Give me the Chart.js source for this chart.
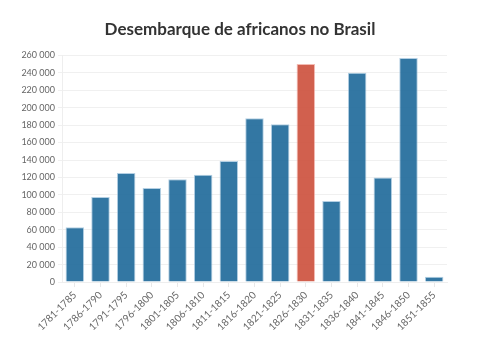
<!DOCTYPE html>
<html>
<head>
<meta charset="utf-8">
<script src="https://cdn.jsdelivr.net/npm/chart.js@4"></script>
<style>
  body { margin: 0; background: #fff; }
  #wrap { width: 480px; height: 340px; }
</style>
</head>
<body>
<div id="wrap"><canvas id="chart"></canvas></div>
<script>
  // data
  const periods = ['1781-1785', '1786-1790', '1791-1795', '1796-1800', '1801-1805', '1806-1810', '1811-1815',
    '1816-1820', '1821-1825', '1826-1830', '1831-1835', '1836-1840', '1841-1845', '1846-1850', '1851-1855'];
  const arrivals = [63000, 97500, 125000, 108000, 118000, 123000, 139000,
    188000, 181000, 250000, 93000, 240000, 120000, 257000, 6000];
  const highlighted = '1826-1830';

  const blue = 'rgba(34,107,155,0.92)';
  const red = 'rgba(205,83,63,0.92)';

  const fmt = v => String(v).replace(/\B(?=(\d{3})+(?!\d))/g, ' ');

  new Chart(document.getElementById('chart'), {
    type: 'bar',
    data: {
      labels: periods,
      datasets: [{
        label: 'Desembarque',
        data: arrivals,
        backgroundColor: periods.map(p => p === highlighted ? red : blue),
        borderColor: periods.map(p => p === highlighted ? 'rgba(240,170,160,0.8)' : 'rgba(160,195,220,0.8)'),
        borderWidth: 1
      }]
    },
    options: {
      responsive: true,
      maintainAspectRatio: false,
      animation: false,
      layout: { padding: { left: 3, right: 3, top: 6, bottom: 5 } },
      plugins: {
        legend: { display: false },
        tooltip: { enabled: false },
        title: {
          display: true,
          text: 'Desembarque de africanos no Brasil',
          color: '#333',
          font: { family: 'Lato', size: 17, weight: 'bold' },
          padding: { top: 13, bottom: 16 }
        }
      },
      scales: {
        x: {
          grid: { drawOnChartArea: false, offset: false, tickLength: 5, color: '#e8e8e8' },
          border: { color: '#eee' },
          ticks: {
            color: '#666', font: { family: 'Lato', size: 10 },
            maxRotation: 45, minRotation: 45, autoSkip: false, padding: 2
          }
        },
        y: {
          min: 0, max: 260000,
          afterFit: s => { s.width = 59; },
          grid: { color: '#f0f0f0', tickLength: 4 },
          border: { color: '#eee' },
          ticks: {
            stepSize: 20000, color: '#666', font: { family: 'Lato', size: 9 },
            callback: v => fmt(v)
          }
        },
        // empty right axis, only keeps space on the right side
        yr: {
          position: 'right',
          afterFit: s => { s.width = 30; },
          grid: { display: false },
          border: { display: false },
          ticks: { display: false }
        }
      }
    }
  });
</script>
</body>
</html>
